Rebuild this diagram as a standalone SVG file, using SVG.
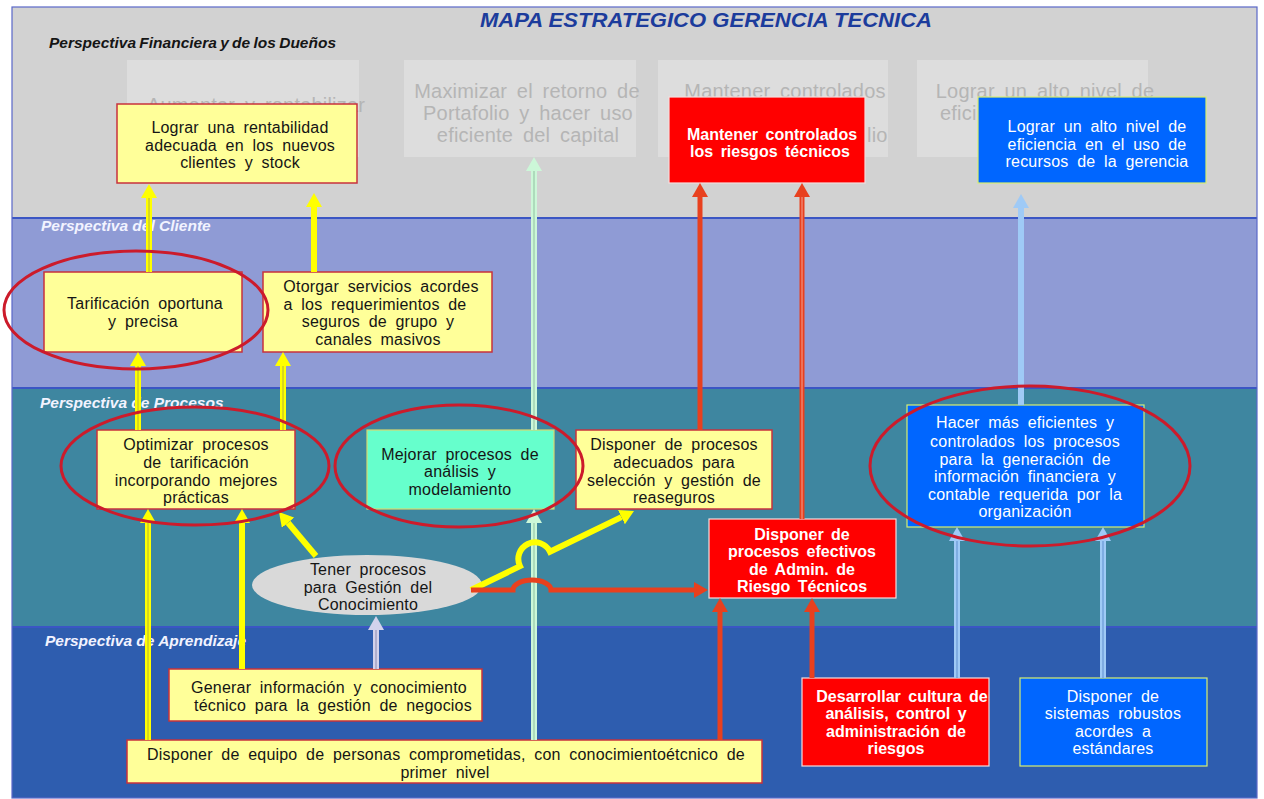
<svg xmlns="http://www.w3.org/2000/svg" width="1264" height="799" viewBox="0 0 1264 799">
<defs>
<style>
text{font-family:"Liberation Sans",Arial,Helvetica,sans-serif}
.t{font-size:16px;letter-spacing:0.2px;word-spacing:4px;text-anchor:middle;fill:#151515}
.tw{fill:#ffffff}
.tb{font-weight:bold;fill:#ffffff;letter-spacing:0px;word-spacing:3px}
.band-label{font-size:15.5px;font-weight:bold;font-style:italic;fill:#f2f3ff}
.ghost rect{fill:#dddddd}
.ghost text{font-size:20px;letter-spacing:0.2px;word-spacing:4px;fill:#b5b5b5}
.yel{fill:#ffff99;stroke:#c8323c;stroke-width:1.5}
.red{fill:#ff0000;stroke:#f4dede;stroke-width:1.2}
.blu{fill:#0066ff;stroke:#d8ee70;stroke-width:1.2}
.grn{fill:#66ffcc;stroke:#d8d870;stroke-width:1.2}
.hl{fill:none;stroke:#cc1b2b;stroke-width:3}
.cy{fill:none;stroke:#ffff00;stroke-width:6}
.cy-in{fill:none;stroke:#8f8f5a;stroke-width:1;opacity:0.7}
.cr{fill:none;stroke:#e8401e;stroke-width:5}
.cr-in{fill:none;stroke:#f6a090;stroke-width:1}
.cg{fill:none;stroke:#ccf7d8;stroke-width:6}
.cg-in{fill:none;stroke:#8fbf9f;stroke-width:1}
.cb{fill:none;stroke:#9fcaf6;stroke-width:6}
.cb-in{fill:none;stroke:#5f8fcf;stroke-width:1}
.cl{fill:none;stroke:#d2d2ec;stroke-width:6}
.cl-in{fill:none;stroke:#8a8ab0;stroke-width:1}
</style>
<marker id="ay" markerUnits="userSpaceOnUse" viewBox="0 0 14 16" markerWidth="14" markerHeight="16" refX="0" refY="8" orient="auto"><path d="M0,0 L14,8 L0,16 z" fill="#ffff00"/></marker>
<marker id="ar" markerUnits="userSpaceOnUse" viewBox="0 0 14 16" markerWidth="14" markerHeight="16" refX="0" refY="8" orient="auto"><path d="M0,0 L14,8 L0,16 z" fill="#e8401e"/></marker>
<marker id="ag" markerUnits="userSpaceOnUse" viewBox="0 0 14 16" markerWidth="14" markerHeight="16" refX="0" refY="8" orient="auto"><path d="M0,0 L14,8 L0,16 z" fill="#ccf7d8"/></marker>
<marker id="ab" markerUnits="userSpaceOnUse" viewBox="0 0 14 16" markerWidth="14" markerHeight="16" refX="0" refY="8" orient="auto"><path d="M0,0 L14,8 L0,16 z" fill="#9fcaf6"/></marker>
<marker id="al" markerUnits="userSpaceOnUse" viewBox="0 0 14 16" markerWidth="14" markerHeight="16" refX="0" refY="8" orient="auto"><path d="M0,0 L14,8 L0,16 z" fill="#d2d2ec"/></marker>
</defs>

<rect width="1264" height="799" fill="#ffffff"/>

<!-- perspective bands -->
<g id="bands">
<rect x="12" y="7" width="1245" height="211" fill="#d2d2d2"/>
<rect x="12" y="218" width="1245" height="170" fill="#8f9bd5"/>
<rect x="12" y="388" width="1245" height="239" fill="#3e86a0"/>
<rect x="12" y="627" width="1245" height="171" fill="#2e5daf"/>
<g stroke="#3b56c4" stroke-width="2">
<line x1="12" y1="218" x2="1257" y2="218"/>
<line x1="12" y1="388" x2="1257" y2="388"/>
<line x1="12" y1="627" x2="1257" y2="627"/>
</g>
<rect x="12" y="7" width="1245" height="791" fill="none" stroke="#5a68c8" stroke-width="1.2"/>
<text x="480" y="27" textLength="452" lengthAdjust="spacingAndGlyphs" font-size="20" font-weight="bold" font-style="italic" fill="#1c3c9c">MAPA ESTRATEGICO GERENCIA TECNICA</text>
<text class="band-label" x="49" y="48" style="fill:#151515" word-spacing="-1">Perspectiva Financiera y de los Dueños</text>
<text class="band-label" x="41" y="231">Perspectiva del Cliente</text>
<text class="band-label" x="40" y="408">Perspectiva de Procesos</text>
<text class="band-label" x="45" y="646">Perspectiva de Aprendizaje</text>
</g>

<!-- faded owner objectives -->
<g class="ghost" id="ghost">
<rect x="127" y="60" width="232" height="97"/>
<rect x="404" y="60" width="232" height="97"/>
<rect x="658" y="60" width="230" height="97"/>
<rect x="917" y="60" width="231" height="97"/>
<text x="256" y="112" text-anchor="middle">Aumentar y rentabilizar</text>
<text x="527" y="98" text-anchor="middle">Maximizar el retorno de</text>
<text x="528" y="120" text-anchor="middle">Portafolio y hacer uso</text>
<text x="528" y="142" text-anchor="middle">eficiente del capital</text>
<text x="785" y="98" text-anchor="middle">Mantener controlados</text>
<text x="867" y="142">lio</text>
<text x="1045" y="98" text-anchor="middle">Lograr un alto nivel de</text>
<text x="940" y="120">efici</text>
</g>

<!-- financial perspective -->
<g id="n-rentabilidad">
<rect class="yel" x="117" y="104" width="240" height="79"/>
<text class="t"><tspan x="240" y="133">Lograr una rentabilidad</tspan><tspan x="240" y="151">adecuada en los nuevos</tspan><tspan x="240" y="168">clientes y stock</tspan></text>
</g>
<g id="n-riesgos">
<rect class="red" x="669" y="97" width="196" height="86"/>
<text class="t tb"><tspan x="772" y="140">Mantener controlados</tspan><tspan x="770" y="157">los riesgos técnicos</tspan></text>
</g>
<g id="n-eficiencia">
<rect class="blu" x="978" y="97" width="228" height="86"/>
<text class="t tw"><tspan x="1097" y="132">Lograr un alto nivel de</tspan><tspan x="1097" y="150">eficiencia en el uso de</tspan><tspan x="1097" y="167">recursos de la gerencia</tspan></text>
</g>

<!-- client perspective -->
<g id="n-tarificacion">
<rect class="yel" x="44" y="272" width="198" height="80"/>
<text class="t"><tspan x="145" y="309">Tarificación oportuna</tspan><tspan x="143" y="327">y precisa</tspan></text>
</g>
<g id="n-servicios">
<rect class="yel" x="263" y="272" width="229" height="80"/>
<text class="t"><tspan x="381" y="292">Otorgar servicios acordes</tspan><tspan x="375" y="310">a los requerimientos de</tspan><tspan x="378" y="327">seguros de grupo y</tspan><tspan x="378" y="345">canales masivos</tspan></text>
</g>

<!-- process perspective -->
<g id="n-optimizar">
<rect class="yel" x="97" y="430" width="198" height="79"/>
<text class="t"><tspan x="196" y="450">Optimizar procesos</tspan><tspan x="196" y="468">de tarificación</tspan><tspan x="196" y="486">incorporando mejores</tspan><tspan x="196" y="503">prácticas</tspan></text>
</g>
<g id="n-mejorar">
<rect class="grn" x="367" y="430" width="187" height="79"/>
<text class="t"><tspan x="460" y="460">Mejorar procesos de</tspan><tspan x="460" y="477">análisis y</tspan><tspan x="460" y="495">modelamiento</tspan></text>
</g>
<g id="n-reaseguros">
<rect class="yel" x="576" y="430" width="196" height="79"/>
<text class="t"><tspan x="674" y="450">Disponer de procesos</tspan><tspan x="674" y="468">adecuados para</tspan><tspan x="674" y="486">selección y gestión de</tspan><tspan x="674" y="503">reaseguros</tspan></text>
</g>
<g id="n-hacer">
<rect class="blu" x="907" y="405" width="237" height="122"/>
<text class="t tw"><tspan x="1025" y="428">Hacer más eficientes y</tspan><tspan x="1025" y="447">controlados los procesos</tspan><tspan x="1025" y="465">para la generación de</tspan><tspan x="1025" y="482">información financiera y</tspan><tspan x="1025" y="500">contable requerida por la</tspan><tspan x="1025" y="517">organización</tspan></text>
</g>
<g id="n-admin-riesgo">
<rect class="red" x="709" y="519" width="187" height="79"/>
<text class="t tb"><tspan x="802" y="540">Disponer de</tspan><tspan x="802" y="557">procesos efectivos</tspan><tspan x="802" y="575">de Admin. de</tspan><tspan x="802" y="592">Riesgo Técnicos</tspan></text>
</g>
<g id="n-gestion">
<ellipse cx="367" cy="585" rx="115" ry="30" fill="#d9d9d9"/>
<text class="t"><tspan x="368" y="575">Tener procesos</tspan><tspan x="368" y="593">para Gestión del</tspan><tspan x="368" y="610">Conocimiento</tspan></text>
</g>

<!-- learning perspective -->
<g id="n-generar">
<rect class="yel" x="169" y="669" width="313" height="52"/>
<text class="t"><tspan x="329" y="693">Generar información y conocimiento</tspan><tspan x="333" y="711">técnico para la gestión de negocios</tspan></text>
</g>
<g id="n-equipo">
<rect class="yel" x="127" y="740" width="635" height="43"/>
<text class="t"><tspan x="446" y="760">Disponer de equipo de personas comprometidas, con conocimientoétcnico de</tspan><tspan x="445" y="778">primer nivel</tspan></text>
</g>
<g id="n-cultura">
<rect class="red" x="802" y="678" width="187" height="88"/>
<text class="t tb"><tspan x="902" y="702">Desarrollar cultura de</tspan><tspan x="896" y="719">análisis, control y</tspan><tspan x="896" y="737">administración de</tspan><tspan x="896" y="754">riesgos</tspan></text>
</g>
<g id="n-sistemas">
<rect class="blu" x="1020" y="678" width="187" height="88"/>
<text class="t tw"><tspan x="1113" y="702">Disponer de</tspan><tspan x="1113" y="719">sistemas robustos</tspan><tspan x="1113" y="737">acordes a</tspan><tspan x="1113" y="754">estándares</tspan></text>
</g>

<!-- cause-effect connectors -->
<g id="connectors">
<!-- mint line through the centre -->
<path class="cg" d="M534,740 V523" marker-end="url(#ag)"/><path class="cg-in" d="M534,740 V523"/>
<path class="cg" d="M534,430 V171" marker-end="url(#ag)"/><path class="cg-in" d="M534,430 V171"/>
<!-- yellow links -->
<path class="cy" d="M149,272 V198" marker-end="url(#ay)"/><path class="cy-in" d="M149,272 V198"/>
<path class="cy" d="M314,272 V207" marker-end="url(#ay)"/>
<path class="cy" d="M138,430 V366" marker-end="url(#ay)"/><path class="cy-in" d="M138,430 V366"/>
<path class="cy" d="M283,430 V366" marker-end="url(#ay)"/><path class="cy-in" d="M283,430 V366"/>
<path class="cy" d="M148,740 V523" marker-end="url(#ay)"/><path class="cy-in" d="M148,740 V523"/>
<path class="cy" d="M242,669 V523" marker-end="url(#ay)"/>
<path class="cy" d="M316,556 L288,522.7" marker-end="url(#ay)"/>
<path class="cy" d="M471,590 L520,566.2 A16,16 0 0 1 550,551.7 L621.4,517.1" marker-end="url(#ay)"/>
<!-- red links -->
<path class="cr" d="M471,590 H513 A19,10 0 0 1 551,590 H694" marker-end="url(#ar)"/>
<path class="cr" d="M700,430 V197" marker-end="url(#ar)"/>
<path class="cr" d="M802,519 V197" marker-end="url(#ar)"/><path class="cr-in" d="M802,519 V197"/>
<path class="cr" d="M720,740 V612" marker-end="url(#ar)"/>
<path class="cr" d="M812,678 V612" marker-end="url(#ar)"/>
<!-- light blue links -->
<path class="cb" d="M957,678 V541" marker-end="url(#ab)"/><path class="cb-in" d="M957,678 V541"/>
<path class="cb" d="M1103,678 V541" marker-end="url(#ab)"/><path class="cb-in" d="M1103,678 V541"/>
<path class="cb" d="M1021,405 V208" marker-end="url(#ab)"/>
<!-- knowledge link -->
<path class="cl" d="M376,669 V630" marker-end="url(#al)"/><path class="cl-in" d="M376,669 V630"/>
</g>

<!-- highlight rings -->
<g id="highlights">
<ellipse class="hl" cx="136" cy="310" rx="132" ry="59"/>
<ellipse class="hl" cx="195" cy="466" rx="134" ry="59"/>
<ellipse class="hl" cx="459" cy="466" rx="124" ry="61"/>
<ellipse class="hl" cx="1030" cy="466" rx="160" ry="80"/>
</g>
</svg>
